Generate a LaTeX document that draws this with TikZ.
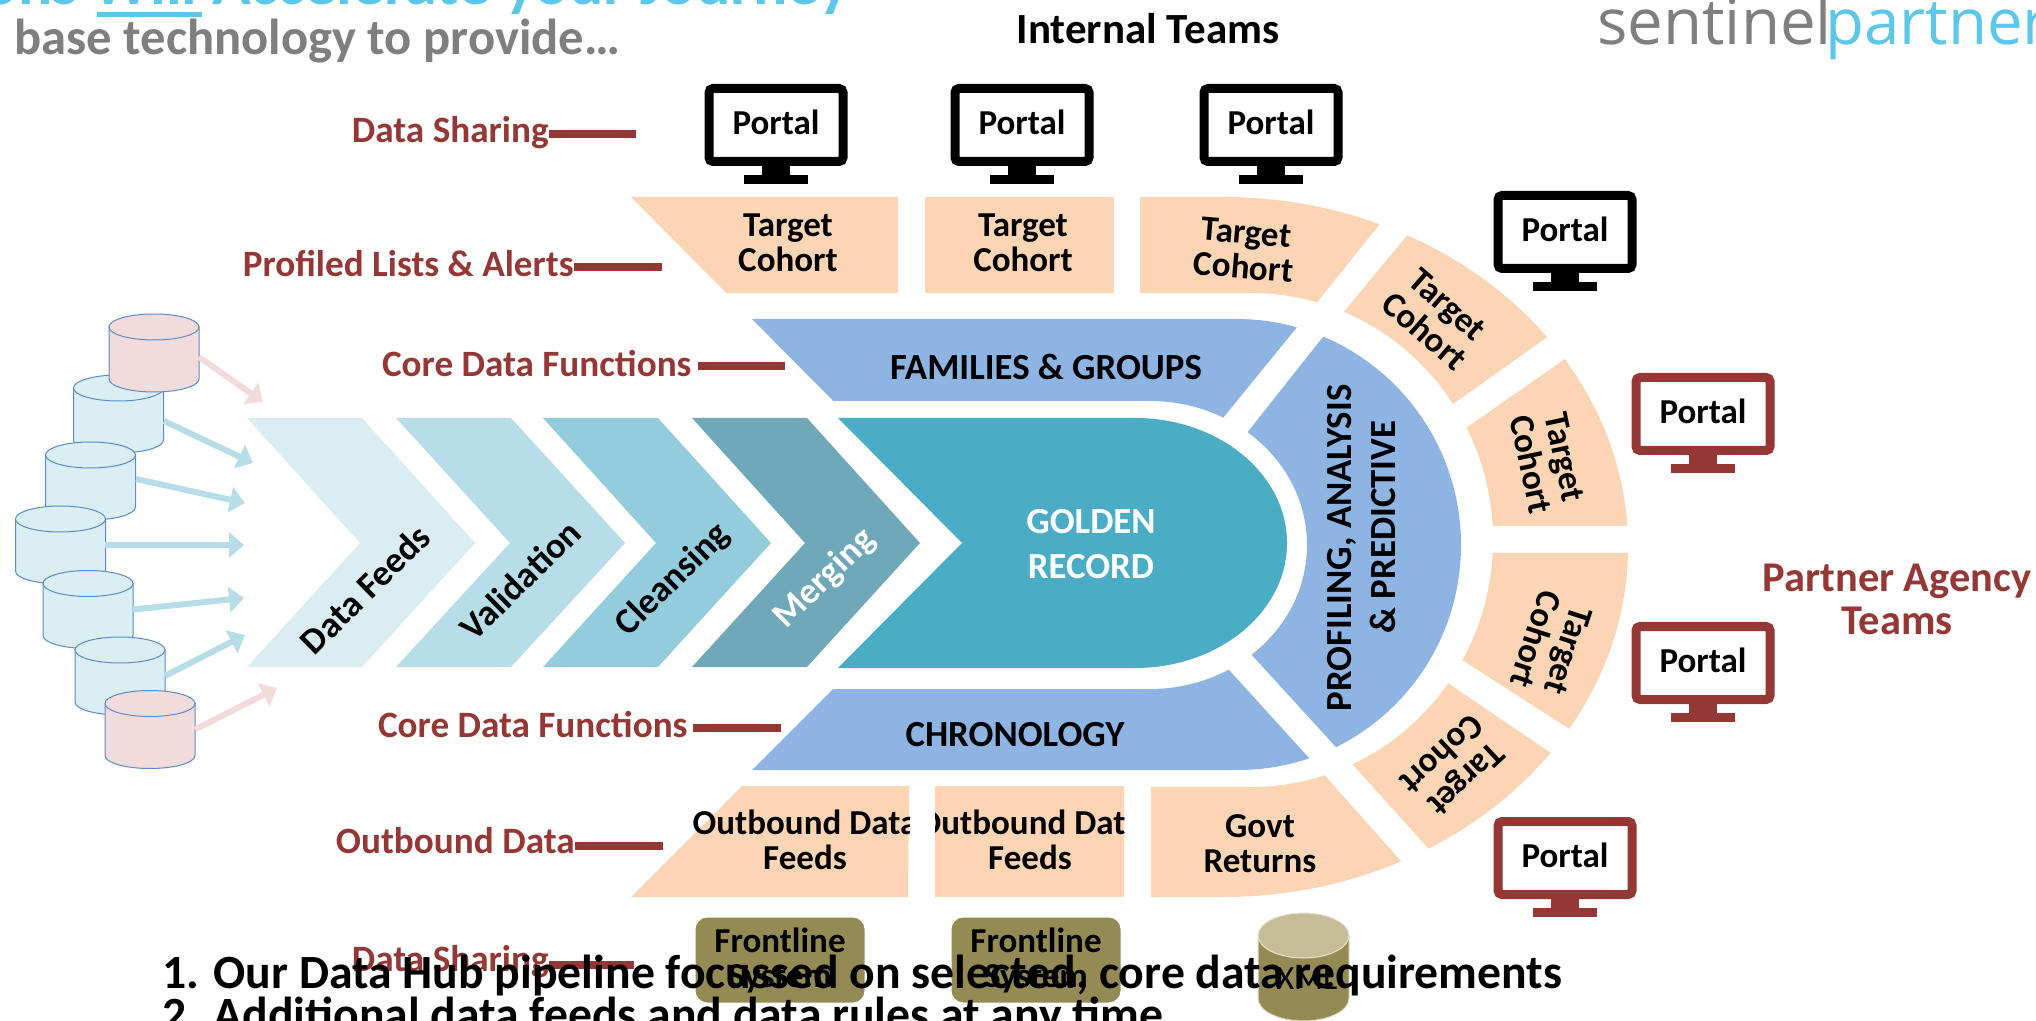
\documentclass[tikz,border=0pt]{standalone}
\usepackage{fontspec}
\setmainfont{Carlito}
\newfontfamily\logofont{Open Sans}
\usetikzlibrary{arrows.meta,calc}
\definecolor{chA}{HTML}{DAEDF3}
\definecolor{chB}{HTML}{B6DDE8}
\definecolor{chC}{HTML}{93CDDD}
\definecolor{chD}{HTML}{6FA9B9}
\definecolor{gold}{HTML}{4AACC5}
\definecolor{bluef}{HTML}{8EB4E3}
\definecolor{peach}{HTML}{FCD5B5}
\definecolor{redd}{HTML}{953735}
\definecolor{olive}{HTML}{948A54}
\definecolor{olivel}{HTML}{C4BD97}
\definecolor{olived}{HTML}{E6E2CF}
\definecolor{cyanl}{HTML}{5BC8EA}
\definecolor{grayt}{HTML}{7F7F7F}
\definecolor{cylline}{HTML}{5B8CCB}
\definecolor{cylb}{HTML}{DAEEF3}
\definecolor{cylp}{HTML}{F2DCDB}
\def\halfell#1#2#3#4{.. controls ({#1+.5523*#3},{#2-#4}) and ({#1+#3},{#2-.5523*#4}) .. ({#1+#3},#2) .. controls ({#1+#3},{#2+.5523*#4}) and ({#1+.5523*#3},{#2+#4}) .. (#1,{#2+#4})}
\def\peachring{(600,197) -- (1223,197) \halfell{1223}{547}{405}{350} -- (600,897) -- cycle (600,293) -- (1251,293) \halfell{1251}{540}{242}{247} -- (600,787) -- cycle}
\def\bluering{(700,319) -- (1238,319) \halfell{1238}{545}{223}{225} -- (700,770) -- cycle (700,401) -- (1150,401) \halfell{1150}{545}{157}{144} -- (700,689) -- cycle}
\newcommand\wedgefill[3]{\begin{scope}\clip #1; \fill[#2,even odd rule] #3;\end{scope}}
\newcommand\monitor[4]{\node[scr,draw=#4] (#1) at (#2,#3) {Portal};
 \fill[#4] ({#2-14},{#3+41}) rectangle ({#2+14},{#3+52});
 \fill[#4] ({#2-32},{#3+50}) rectangle ({#2+32},{#3+59});}
% name, cx, cy, rx, half height, end radius, body fill, top fill, line colour
\newcommand\dbcyl[9]{\node[inner sep=0pt,minimum width=#4*1pt,minimum height=#5*1pt] (#1) at (#2,#3) {};
 \filldraw[fill=#7,draw=#9,line width=.5pt] ({#2-#4},{#3-#5+#6}) -- ({#2-#4},{#3+#5-#6})
  .. controls ({#2-#4},{#3+#5-#6+.5523*#6}) and ({#2-.5523*#4},{#3+#5}) .. (#2,{#3+#5})
  .. controls ({#2+.5523*#4},{#3+#5}) and ({#2+#4},{#3+#5-#6+.5523*#6}) .. ({#2+#4},{#3+#5-#6})
  -- ({#2+#4},{#3-#5+#6}) -- cycle;
 \filldraw[fill=#8,draw=#9,line width=.5pt] (#2,{#3-#5+#6}) ellipse [x radius=#4*0.5pt,y radius=#6*0.5pt];}
\tikzset{
 scr/.style={rectangle,rounded corners=2pt,line width=4.5pt,fill=white,minimum width=67pt,minimum height=36.5pt,inner sep=0pt,text depth=3pt,font=\fontsize{17.5}{17.5}\selectfont\bfseries},
 cohort/.style={align=center,inner sep=0pt,font=\fontsize{17.5}{17.5}\selectfont\bfseries},
 lab/.style={inner sep=0pt,text=redd,font=\fontsize{18.6}{18.6}\selectfont\bfseries},
 lead/.style={draw=redd,line width=4pt},
 chevtxt/.style={inner sep=0pt,rotate=44.5,font=\fontsize{18.2}{18.2}\selectfont\bfseries},
 caps/.style={inner sep=0pt,font=\fontsize{18.4}{18.4}\selectfont\bfseries},
 arr/.style={draw=#1,line width=3pt,-{Triangle[length=7.5pt,width=12.5pt,fill=#1]}},
 fbox/.style={rectangle,rounded corners=6pt,fill=olive,minimum width=84.5pt,minimum height=42.5pt,inner sep=0pt,align=center,font=\fontsize{17.5}{17.5}\selectfont\bfseries},
 listline/.style={inner sep=0pt,font=\fontsize{23.85}{23.85}\selectfont\bfseries},
}
\begin{document}
\begin{tikzpicture}[x=0.5pt,y=-0.5pt]
\path[use as bounding box] (0,0) rectangle (2036,1021);
\clip (0,0) rectangle (2036,1021);
\fill[white] (0,0) rectangle (2036,1021);
% header
\node[anchor=base east,inner sep=0pt,text=cyanl,font=\fontsize{32}{32}\selectfont\bfseries] (title) at (850,5) {ons Will Accelerate your Journey};
\fill[cyanl] (97,12) rectangle (202,17);
\node[anchor=base west,inner sep=0pt,text=grayt,font=\fontsize{25.3}{25.3}\selectfont\bfseries] (sub) at (14,55) {base technology to provide…};
\node[anchor=base,inner sep=0pt,font=\fontsize{21.5}{21.5}\selectfont\bfseries] (internal) at (1148,44) {Internal Teams};
\node[anchor=base west,inner sep=0pt,text=grayt,font=\logofont\fontsize{31.8}{31.8}\selectfont] (logoa) at (1597,45) {sentinel};
\node[anchor=base west,inner sep=0pt,text=cyanl,font=\logofont\fontsize{31.8}{31.8}\selectfont] (logob) at (1825,45) {partner};
% monitors
\monitor{p1}{776}{125}{black}
\monitor{p2}{1022}{125}{black}
\monitor{p3}{1271}{125}{black}
\monitor{p4}{1565}{232}{black}
\monitor{p5}{1703}{414}{redd}
\monitor{p6}{1703}{663}{redd}
\monitor{p7}{1565}{858}{redd}
% peach segments
\fill[peach] (631,197) -- (898,197) -- (898,293) -- (726,293) -- cycle;
\fill[peach] (925,197) rectangle (1114,293);
\wedgefill{(1140,180) -- (1415,180) -- (1303,320) -- (1140,320) -- cycle}{peach}{\peachring}
\wedgefill{(1428,210) -- (1600,200) -- (1577,316) -- (1439,414) -- (1333,325) -- cycle}{peach}{\peachring}
\wedgefill{(1585,345) -- (1660,340) -- (1660,526) -- (1470,526) -- (1446,442) -- cycle}{peach}{\peachring}
\wedgefill{(1470,553) -- (1660,553) -- (1660,750) -- (1599,748) -- (1442,647) -- cycle}{peach}{\peachring}
\wedgefill{(1433,673) -- (1570,766) -- (1600,880) -- (1445,867) -- (1335,745) -- cycle}{peach}{\peachring}
\wedgefill{(1151,770) -- (1312,761) -- (1440,905) -- (1151,905) -- cycle}{peach}{\peachring}
\fill[peach] (742,786) -- (909,786) -- (908,897) -- (631,897) -- cycle;
\fill[peach] (935,786) rectangle (1124,897);
% blue segments
\wedgefill{(743,310) -- (1311,310) -- (1214,429) -- (861,429) -- cycle}{bluef}{\bluering}
\wedgefill{(1353,299) -- (1600,299) -- (1600,790) -- (1366,780) -- (1155,549) -- cycle}{bluef}{\bluering}
\wedgefill{(842,680) -- (1220,660) -- (1329,780) -- (742,780) -- cycle}{bluef}{\bluering}
% chevrons
\fill[chA] (247,418) -- (362,418) -- (475,543) -- (362,667) -- (247,667) -- (360,543) -- cycle;
\fill[chB] (396,418) -- (511,418) -- (625,543) -- (511,667) -- (396,667) -- (510,543) -- cycle;
\fill[chC] (543,418) -- (658,418) -- (771,543) -- (658,667) -- (543,667) -- (656,543) -- cycle;
\fill[chD] (692,418) -- (807,418) -- (920,543) -- (807,667) -- (692,667) -- (805,543) -- cycle;
\fill[gold] (838,418) -- (1135,418) \halfell{1135}{543}{152}{125} -- (838,668) -- (962,543) -- cycle;
% chevron text
\node[chevtxt] (t1) at (365,589) {Data Feeds};
\node[chevtxt] (t2) at (520,580) {Validation};
\node[chevtxt] (t3) at (673,580) {Cleansing};
\node[chevtxt,text=white] (t4) at (825,579) {Merging};
\node[anchor=base,caps,text=white] (g1) at (1091,534) {GOLDEN};
\node[anchor=base,caps,text=white] (g2) at (1091,579) {RECORD};
\node[anchor=base,caps] (fam) at (1046,380) {FAMILIES \& GROUPS};
\node[anchor=base,caps] (chr) at (1015,746) {CHRONOLOGY};
\node[caps,rotate=90] (prof1) at (1342,548) {PROFILING, ANALYSIS};
\node[caps,rotate=90] (prof2) at (1383,527) {\& PREDICTIVE};
% target labels
\node[cohort] (c1) at (788,243) {Target\\Cohort};
\node[cohort] (c2) at (1023,243) {Target\\Cohort};
\node[cohort,rotate=-5] (c3) at (1245,250) {Target\\Cohort};
\node[cohort,rotate=-41] (c4) at (1436,318) {Target\\Cohort};
\node[cohort,rotate=-78] (c5) at (1548,461) {Target\\Cohort};
\node[cohort,rotate=-108] (c6) at (1552,645) {Target\\Cohort};
\node[cohort,rotate=-137] (c7) at (1454,767) {Target\\Cohort};
\node[cohort] (c8) at (1260,844) {Govt\\Returns};
\begin{scope}
\clip (600,780) rectangle (909,900);
\node[cohort] (o1) at (805,840) {Outbound Data\\Feeds};
\end{scope}
\begin{scope}
\clip (935,780) rectangle (1124,900);
\node[cohort] (o2) at (1030,840) {Outbound Data\\Feeds};
\end{scope}
% bottom systems
\node[fbox] (f1) at (780,960) {Frontline\\System};
\node[fbox] (f2) at (1036,960) {Frontline\\System};
\dbcyl{xml}{1303.5}{967}{45.5}{54}{22.5}{olive}{olivel}{olived}
\node[anchor=base,inner sep=0pt,font=\fontsize{17}{17}\selectfont] (xmlt) at (1307,989) {XML};
% cylinders and arrows
\dbcyl{d2}{118.5}{414}{45}{39}{13}{cylb}{cylb}{cylline}
\dbcyl{d1}{154}{353}{45}{39}{13}{cylp}{cylp}{cylline}
\dbcyl{d3}{90.5}{481}{45}{39}{13}{cylb}{cylb}{cylline}
\dbcyl{d4}{60.5}{545}{45}{39}{13}{cylb}{cylb}{cylline}
\dbcyl{d5}{88}{609.5}{45}{39}{13}{cylb}{cylb}{cylline}
\dbcyl{d6}{120}{676}{45}{39}{13}{cylb}{cylb}{cylline}
\dbcyl{d7}{150}{729.5}{45}{39}{13}{cylp}{cylp}{cylline}
\coordinate (a1) at (263,402);
\coordinate (a2) at (253,463);
\coordinate (a3) at (245,503);
\coordinate (a4) at (244,545);
\coordinate (a5) at (244,598);
\coordinate (a6) at (245,635);
\coordinate (a7) at (277,688);
\draw[arr=cylp] ($(d1)+(45,4)$) -- (a1);
\draw[arr=chB] ($(d2)+(45.5,7)$) -- (a2);
\draw[arr=chB] ($(d3)+(45.5,-2)$) -- (a3);
\draw[arr=chB] ($(d4)+(44.5,0)$) -- (a4);
\draw[arr=chB] ($(d5)+(45,0)$) -- (a5);
\draw[arr=chB] ($(d6)+(45,0)$) -- (a6);
\draw[arr=cylp] ($(d7)+(45,0)$) -- (a7);
% left labels
\node[lab,anchor=base east] (l1) at (549,143) {Data Sharing};
\node[lab,anchor=base east] (l2) at (574,277) {Profiled Lists \& Alerts};
\node[lab,anchor=base east] (l3) at (692,377) {Core Data Functions};
\node[lab,anchor=base east] (l4) at (688,737) {Core Data Functions};
\node[lab,anchor=base east] (l5) at (575,853) {Outbound Data};
\node[lab,anchor=base east] (l6) at (549,971) {Data Sharing};
\coordinate (e1) at (636,134);
\coordinate (e2) at (662,267);
\coordinate (e3) at (785,366);
\coordinate (e4) at (781,728);
\coordinate (e5) at (663,846);
\coordinate (e6) at (634,965);
\draw[lead] (l1.east |- e1) -- (e1);
\draw[lead] (l2.east |- e2) -- (e2);
\draw[lead] ($(l3.east |- e3)+(6,0)$) -- (e3);
\draw[lead] ($(l4.east |- e4)+(5,0)$) -- (e4);
\draw[lead] (l5.east |- e5) -- (e5);
\draw[lead] (l6.east |- e6) -- (e6);
\node[anchor=base,align=center,inner sep=0pt,text=redd,font=\fontsize{21.2}{21.5}\selectfont\bfseries] (part) at (1897,634) {Partner Agency\\Teams};
% list
\node[listline,anchor=base west] (li1) at (162,988) {1. Our Data Hub pipeline focussed on selected, core data requirements};
\node[listline,anchor=base west] (li2) at (162,1030) {2. Additional data feeds and data rules at any time};
\end{tikzpicture}
\end{document}
